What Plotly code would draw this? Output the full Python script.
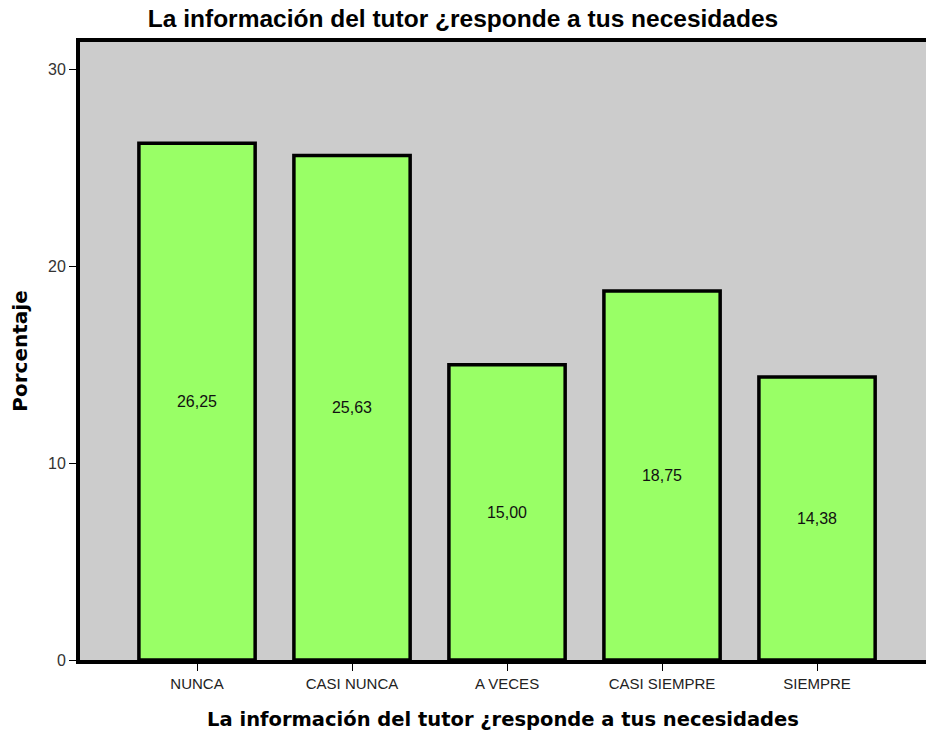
import plotly.graph_objects as go

categories = ["NUNCA", "CASI NUNCA", "A VECES", "CASI SIEMPRE", "SIEMPRE"]
values = [26.25, 25.63, 15.00, 18.75, 14.38]
y_ticks = [0, 10, 20, 30]

labels = [f"{v:.2f}".replace(".", ",") for v in values]

fig = go.Figure()
fig.add_trace(go.Bar(
    x=list(range(len(categories))),
    y=values,
    width=0.75,
    text=labels,
    textposition="inside",
    insidetextanchor="middle",
    textangle=0,
    textfont=dict(family="Liberation Sans, Arial", size=16, color="#111111"),
    marker=dict(color="#99FF66", line=dict(color="#000000", width=3.5)),
    hoverinfo="skip",
))

fig.update_layout(
    width=926, height=734,
    margin=dict(l=80, r=0, t=42, b=74),
    paper_bgcolor="#FFFFFF",
    plot_bgcolor="#CCCCCC",
    showlegend=False,
    title=dict(
        text="<b>La información del tutor ¿responde a tus necesidades</b>",
        x=0.5, xanchor="center", y=0.9755, yanchor="middle",
        font=dict(family="Liberation Sans, Arial", size=24.5, color="#000000"),
    ),
    font=dict(family="Liberation Sans, Arial", color="#000000"),
)

fig.update_xaxes(
    range=[-0.755, 4.703],
    tickmode="array",
    tickvals=list(range(len(categories))),
    ticktext=categories,
    ticks="outside", ticklen=7, tickwidth=1.2, tickcolor="#000000",
    tickfont=dict(size=15, color="#222222"),
    showgrid=False, zeroline=False,
    showline=True, linewidth=4, linecolor="#000000", mirror=True,
    title=dict(text="<b>La información del tutor ¿responde a tus necesidades</b>",
               font=dict(family="DejaVu Sans", size=19.5, color="#000000"), standoff=22),
)

fig.update_yaxes(
    range=[0, 31.4],
    tickmode="array",
    tickvals=y_ticks,
    ticks="outside", ticklen=7, tickwidth=1.2, tickcolor="#000000",
    tickfont=dict(size=16, color="#333333"),
    showgrid=False, zeroline=False,
    showline=True, linewidth=4, linecolor="#000000",
    title=dict(text="<b>Porcentaje</b>",
               font=dict(family="DejaVu Sans", size=20, color="#000000"), standoff=16),
)

fig.write_html("out.html", config={"displayModeBar": False},
               post_script="document.body.style.margin='0';")
